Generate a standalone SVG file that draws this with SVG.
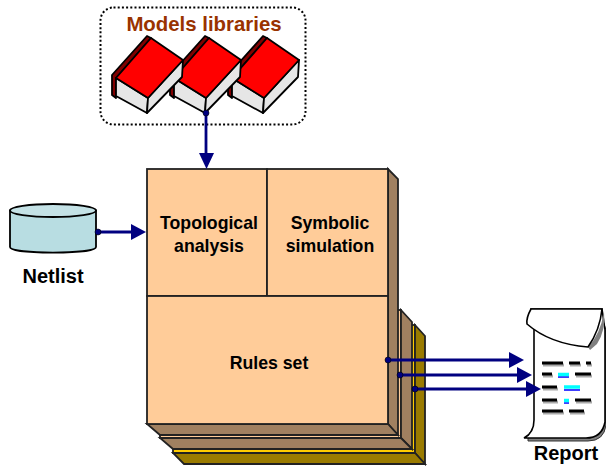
<svg xmlns="http://www.w3.org/2000/svg" xmlns:xlink="http://www.w3.org/1999/xlink" width="606" height="468" viewBox="0 0 606 468">
<style>
text{font-family:"Liberation Sans",Arial,sans-serif;font-weight:bold;fill:#000;text-anchor:middle}
.lbl{font-size:17.700px}
.o{stroke:#222;stroke-width:1.800;stroke-linejoin:miter}
.peach{fill:#ffcc99}.brown{fill:#a08060}.gold{fill:#ffcc00}.olive{fill:#9a7b00}
.wire{stroke:#000080;stroke-width:2.800;fill:none}
.dot{fill:#000080;stroke:#000;stroke-width:.6}
.head{fill:#000080}
.bk{stroke:#000;stroke-width:1.800;stroke-linejoin:round}
.tl{stroke-width:3;stroke:#000}.ts{stroke-width:3;stroke:#aaa}.tc{stroke-width:3.500;stroke:#00ffff}.tb{stroke-width:1.500;stroke:#0000ff}
</style>
<defs>
<g id="book">
<path class="bk" fill="#800000" d="M112 75L147 36L151 38L116 78V98L112 95Z"/>
<path class="bk" fill="#e6e6e6" d="M116 78L148 98L147 113L116 96Z"/>
<path class="bk" fill="#e6e6e6" d="M148 98L183 60L182 77L147 113Z"/>
<path class="bk" fill="#ff0000" d="M116 78L151 38L183 60L148 98Z"/>
</g>
</defs>

<g id="layer3">
<rect class="o gold" x="173" y="325" width="242" height="128"/>
<path class="o olive" d="M415 325L425 336V464L415 453Z"/>
<path class="o olive" d="M173 453H415L425 464H184Z"/>
</g>
<g id="layer2">
<rect class="o peach" x="160" y="310" width="241" height="128"/>
<path class="o brown" d="M401 310L412 322V449L401 438Z"/>
<path class="o brown" d="M160 438H401L412 449H173Z"/>
</g>
<g id="layer1">
<path class="o brown" d="M388 169L398 179V435L388 424Z"/>
<path class="o brown" d="M147 424H388L398 435H160Z"/>
</g>
<g id="topological-analysis">
<rect class="o peach" x="147" y="169" width="120" height="127"/>
<text class="lbl" x="209" y="229">Topological</text>
<text class="lbl" x="209" y="252">analysis</text>
</g>
<g id="symbolic-simulation">
<rect class="o peach" x="267" y="169" width="121" height="127"/>
<text class="lbl" x="330" y="229">Symbolic</text>
<text class="lbl" x="330" y="252">simulation</text>
</g>
<g id="rules-set">
<rect class="o peach" x="147" y="296" width="241" height="128"/>
<text class="lbl" x="269" y="369">Rules set</text>
</g>

<g id="models-libraries">
<rect x="100.500" y="7.500" width="205" height="117" rx="13" fill="#fff" stroke="#000" stroke-width="2" stroke-dasharray="2 2.200"/>
<text x="204" y="31" font-size="20.400" style="fill:#993300">Models libraries</text>
<use xlink:href="#book" href="#book" x="116"/>
<use xlink:href="#book" href="#book" x="58"/>
<use xlink:href="#book" href="#book"/>
</g>

<g id="netlist">
<path d="M10 210.500V247C10 254.500 96 254.500 96 247V210.500Z" fill="#b8dde2" stroke="#000" stroke-width="1.800"/>
<ellipse cx="53" cy="210.500" rx="43" ry="6.500" fill="#c4e2e6" stroke="#000" stroke-width="1.800"/>
<text x="53" y="283" font-size="20">Netlist</text>
</g>

<g id="report">
<path fill="#808080" stroke="#333" stroke-width="1" d="M528 436L528 441H588Q604 441 606 425V330L600 312Z"/>
<path fill="#fff" stroke="#000" stroke-width="1.600" d="M534 330V420Q534 433 524 438H586Q602 438 605 422V330L602 309H531Z"/>
<path fill="#808080" d="M588 347Q600 335 604 312Q606 330 597 344L590 350Z"/>
<path fill="#fff" stroke="#000" stroke-width="1.600" d="M531 309Q526 318 527 324Q550 344 588 347Q600 330 602 309Z"/>
<g fill="none">
<path class="ts" d="M543 365H564M570 365H581M587 365H592M543 376H553M576 376H592M543 389H558M543 402H558M576 402H592M543 413H564M570 413H585"/>
<path class="tl" d="M542 363H563M569 363H580M586 363H591M542 374H552M575 374H591M542 387H557M542 400H557M575 400H591M542 411H563M569 411H584"/>
<path class="tb" d="M558 377H569M564 390H580M564 403H569"/>
<path class="tc" d="M558 374.500H569M564 387H580M564 400.500H569"/>
</g>
<text x="566" y="460" font-size="20">Report</text>
</g>

<g id="connectors">
<path class="wire" d="M206 113V156"/><circle class="dot" cx="206" cy="113" r="3"/><path class="head" d="M199 153H214L206.500 169Z"/>
<path class="wire" d="M98 232H133"/><circle class="dot" cx="98" cy="232" r="3"/><path class="head" d="M131 224V240L146 232Z"/>
<path class="wire" d="M388 360H510"/><circle class="dot" cx="388" cy="360" r="3"/><path class="head" d="M509 352V368L524 360Z"/>
<path class="wire" d="M400 375H518"/><circle class="dot" cx="400" cy="375" r="3"/><path class="head" d="M517 367V383L532 375Z"/>
<path class="wire" d="M415 389H527"/><circle class="dot" cx="415" cy="389" r="3"/><path class="head" d="M526 381V397L541 389Z"/>
</g>
</svg>
